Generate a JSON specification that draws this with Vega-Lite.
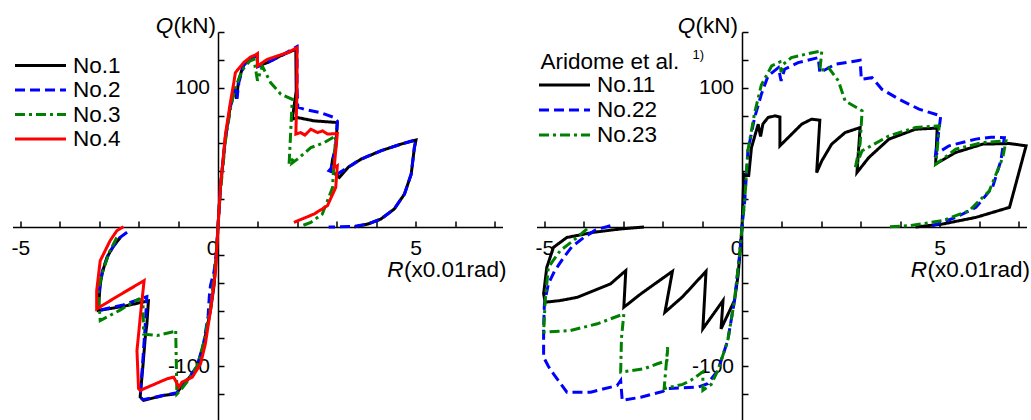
{
  "$schema": "https://vega.github.io/schema/vega-lite/v6.json",
  "padding": {"left": 10.5, "top": 14, "right": 0, "bottom": 0},
  "spacing": 34,
  "bounds": "flush",
  "config": {"font": "Liberation Sans", "view": {"stroke": null}, "axis": {"grid": false}},
  "datasets": {
    "L": [
      {"s":"No.1","r":-2.47,"q":-7.5},{"s":"No.1","r":-2.65,"q":-14},{"s":"No.1","r":-2.81,"q":-21.8},{"s":"No.1","r":-2.92,"q":-32},{"s":"No.1","r":-2.98,"q":-41},{"s":"No.1","r":-3.03,"q":-60},{"s":"No.1","r":-2.4,"q":-57},{"s":"No.1","r":-1.76,"q":-53},{"s":"No.1","r":-1.8,"q":-70},{"s":"No.1","r":-1.84,"q":-79},{"s":"No.1","r":-1.9,"q":-100},{"s":"No.1","r":-1.97,"q":-122},{"s":"No.1","r":-1.88,"q":-124.5},{"s":"No.1","r":-1.38,"q":-120.9},{"s":"No.1","r":-1.04,"q":-119.7},{"s":"No.1","r":-0.99,"q":-117},{"s":"No.1","r":-0.78,"q":-110},{"s":"No.1","r":-0.53,"q":-101},{"s":"No.1","r":-0.36,"q":-84},{"s":"No.1","r":-0.19,"q":-60},{"s":"No.1","r":-0.1,"q":-42},{"s":"No.1","r":-0.04,"q":-20},{"s":"No.1","r":0,"q":0},{"s":"No.1","r":0.06,"q":28},{"s":"No.1","r":0.19,"q":65},{"s":"No.1","r":0.32,"q":88},{"s":"No.1","r":0.44,"q":100},{"s":"No.1","r":0.47,"q":92},{"s":"No.1","r":0.52,"q":105},{"s":"No.1","r":0.65,"q":117},{"s":"No.1","r":0.82,"q":121.5},{"s":"No.1","r":0.99,"q":123.5},{"s":"No.1","r":1.0,"q":115.6},{"s":"No.1","r":1.25,"q":118},{"s":"No.1","r":1.59,"q":123},{"s":"No.1","r":1.97,"q":127.6},{"s":"No.1","r":1.98,"q":97.7},{"s":"No.1","r":1.88,"q":77.4},{"s":"No.1","r":2.01,"q":78.6},{"s":"No.1","r":2.43,"q":76.2},{"s":"No.1","r":3.02,"q":75},{"s":"No.1","r":2.98,"q":57},{"s":"No.1","r":2.9,"q":48.7},{"s":"No.1","r":2.86,"q":40.4},{"s":"No.1","r":3.07,"q":35.6},{"s":"No.1","r":3.3,"q":43},{"s":"No.1","r":3.62,"q":48.7},{"s":"No.1","r":4.12,"q":54.7},{"s":"No.1","r":4.63,"q":59.5},{"s":"No.1","r":5.01,"q":62.4},{"s":"No.1","r":4.97,"q":57},{"s":"No.1","r":4.89,"q":38},{"s":"No.1","r":4.72,"q":23.7},{"s":"No.1","r":4.46,"q":12.9},{"s":"No.1","r":4.12,"q":5.7},{"s":"No.1","r":3.79,"q":2.1},{"s":"No.1","r":3.45,"q":0},
      {"s":"No.2","r":-2.3,"q":-3.8},{"s":"No.2","r":-2.5,"q":-8},{"s":"No.2","r":-2.75,"q":-18},{"s":"No.2","r":-2.93,"q":-32},{"s":"No.2","r":-3.0,"q":-45},{"s":"No.2","r":-3.05,"q":-60},{"s":"No.2","r":-2.4,"q":-56},{"s":"No.2","r":-1.8,"q":-50},{"s":"No.2","r":-1.84,"q":-70},{"s":"No.2","r":-1.9,"q":-95},{"s":"No.2","r":-1.97,"q":-122},{"s":"No.2","r":-1.9,"q":-124},{"s":"No.2","r":-1.4,"q":-121},{"s":"No.2","r":-1.04,"q":-119},{"s":"No.2","r":-0.97,"q":-116},{"s":"No.2","r":-0.78,"q":-110},{"s":"No.2","r":-0.53,"q":-100},{"s":"No.2","r":-0.36,"q":-83},{"s":"No.2","r":-0.25,"q":-64},{"s":"No.2","r":-0.22,"q":-50},{"s":"No.2","r":-0.19,"q":-42},{"s":"No.2","r":-0.1,"q":-32},{"s":"No.2","r":-0.04,"q":-18},{"s":"No.2","r":0,"q":0},{"s":"No.2","r":0.06,"q":28},{"s":"No.2","r":0.19,"q":64},{"s":"No.2","r":0.32,"q":87},{"s":"No.2","r":0.44,"q":99},{"s":"No.2","r":0.48,"q":92},{"s":"No.2","r":0.53,"q":104},{"s":"No.2","r":0.65,"q":116},{"s":"No.2","r":0.82,"q":121},{"s":"No.2","r":0.99,"q":123},{"s":"No.2","r":1.0,"q":115},{"s":"No.2","r":1.25,"q":118},{"s":"No.2","r":1.6,"q":123},{"s":"No.2","r":2.0,"q":129.5},{"s":"No.2","r":2.0,"q":100},{"s":"No.2","r":2.02,"q":86},{"s":"No.2","r":2.18,"q":84.6},{"s":"No.2","r":2.6,"q":82},{"s":"No.2","r":2.94,"q":78.6},{"s":"No.2","r":3.02,"q":76},{"s":"No.2","r":2.98,"q":57},{"s":"No.2","r":2.86,"q":42},{"s":"No.2","r":2.81,"q":40.4},{"s":"No.2","r":3.02,"q":38},{"s":"No.2","r":3.3,"q":43},{"s":"No.2","r":3.62,"q":48.7},{"s":"No.2","r":4.12,"q":54.7},{"s":"No.2","r":4.63,"q":59.5},{"s":"No.2","r":5.01,"q":62.6},{"s":"No.2","r":4.97,"q":57},{"s":"No.2","r":4.89,"q":38},{"s":"No.2","r":4.72,"q":23.7},{"s":"No.2","r":4.46,"q":12.9},{"s":"No.2","r":4.12,"q":5.7},{"s":"No.2","r":3.79,"q":2.1},{"s":"No.2","r":3.4,"q":0.3},{"s":"No.2","r":2.8,"q":0},
      {"s":"No.3","r":-2.56,"q":-7.5},{"s":"No.3","r":-2.75,"q":-18},{"s":"No.3","r":-2.95,"q":-35},{"s":"No.3","r":-3.03,"q":-46},{"s":"No.3","r":-2.98,"q":-67.2},{"s":"No.3","r":-2.5,"q":-60},{"s":"No.3","r":-2.0,"q":-51.6},{"s":"No.3","r":-1.9,"q":-53},{"s":"No.3","r":-1.88,"q":-77},{"s":"No.3","r":-1.54,"q":-77.9},{"s":"No.3","r":-1.1,"q":-75},{"s":"No.3","r":-1.07,"q":-74},{"s":"No.3","r":-1.04,"q":-120},{"s":"No.3","r":-0.95,"q":-117.3},{"s":"No.3","r":-0.78,"q":-111},{"s":"No.3","r":-0.53,"q":-100},{"s":"No.3","r":-0.36,"q":-83},{"s":"No.3","r":-0.19,"q":-58},{"s":"No.3","r":-0.06,"q":-25},{"s":"No.3","r":0,"q":0},{"s":"No.3","r":0.06,"q":25},{"s":"No.3","r":0.19,"q":62},{"s":"No.3","r":0.32,"q":86},{"s":"No.3","r":0.44,"q":100},{"s":"No.3","r":0.55,"q":108},{"s":"No.3","r":0.65,"q":114},{"s":"No.3","r":0.8,"q":119},{"s":"No.3","r":0.91,"q":120.4},{"s":"No.3","r":1.0,"q":105},{"s":"No.3","r":1.12,"q":115.6},{"s":"No.3","r":1.33,"q":103.7},{"s":"No.3","r":1.59,"q":95.3},{"s":"No.3","r":1.88,"q":91.7},{"s":"No.3","r":1.8,"q":45.2},{"s":"No.3","r":1.92,"q":49.9},{"s":"No.3","r":1.88,"q":46},{"s":"No.3","r":2.01,"q":48.7},{"s":"No.3","r":2.35,"q":57},{"s":"No.3","r":2.69,"q":60.6},{"s":"No.3","r":2.98,"q":65.4},{"s":"No.3","r":2.92,"q":40},{"s":"No.3","r":2.9,"q":28.4},{"s":"No.3","r":2.64,"q":9.3},{"s":"No.3","r":2.35,"q":3.3},{"s":"No.3","r":2.09,"q":0.5},
      {"s":"No.4","r":-2.39,"q":0.2},{"s":"No.4","r":-2.56,"q":-2.7},{"s":"No.4","r":-2.73,"q":-9.8},{"s":"No.4","r":-2.98,"q":-24.2},{"s":"No.4","r":-3.07,"q":-45.7},{"s":"No.4","r":-3.07,"q":-58.8},{"s":"No.4","r":-2.5,"q":-49},{"s":"No.4","r":-1.87,"q":-38.5},{"s":"No.4","r":-1.95,"q":-60},{"s":"No.4","r":-2.05,"q":-88.7},{"s":"No.4","r":-2.01,"q":-116},{"s":"No.4","r":-1.97,"q":-117.3},{"s":"No.4","r":-1.29,"q":-109},{"s":"No.4","r":-1.12,"q":-107.8},{"s":"No.4","r":-0.99,"q":-115},{"s":"No.4","r":-0.91,"q":-111.4},{"s":"No.4","r":-0.65,"q":-107.8},{"s":"No.4","r":-0.44,"q":-98.2},{"s":"No.4","r":-0.32,"q":-83.9},{"s":"No.4","r":-0.19,"q":-60},{"s":"No.4","r":-0.06,"q":-31.3},{"s":"No.4","r":0,"q":0},{"s":"No.4","r":0.06,"q":28.4},{"s":"No.4","r":0.19,"q":66.7},{"s":"No.4","r":0.32,"q":90.5},{"s":"No.4","r":0.4,"q":103.6},{"s":"No.4","r":0.44,"q":110.8},{"s":"No.4","r":0.65,"q":118},{"s":"No.4","r":0.82,"q":122},{"s":"No.4","r":0.95,"q":123.5},{"s":"No.4","r":1.0,"q":124.5},{"s":"No.4","r":1.0,"q":115.6},{"s":"No.4","r":1.25,"q":120.4},{"s":"No.4","r":1.76,"q":125.2},{"s":"No.4","r":2.0,"q":128.7},{"s":"No.4","r":2.0,"q":97.7},{"s":"No.4","r":1.97,"q":66.7},{"s":"No.4","r":2.09,"q":67.8},{"s":"No.4","r":2.2,"q":66},{"s":"No.4","r":2.35,"q":70.2},{"s":"No.4","r":2.52,"q":67.8},{"s":"No.4","r":2.65,"q":69},{"s":"No.4","r":2.77,"q":66.7},{"s":"No.4","r":3.02,"q":67.1},{"s":"No.4","r":2.94,"q":42.7},{"s":"No.4","r":3.02,"q":44},{"s":"No.4","r":2.98,"q":28.4},{"s":"No.4","r":2.77,"q":15.3},{"s":"No.4","r":2.43,"q":9.3},{"s":"No.4","r":1.92,"q":3.3}
    ],
    "R": [
      {"s":"No.11","r":-2.48,"q":0},{"s":"No.11","r":-3.1,"q":-1.5},{"s":"No.11","r":-3.75,"q":-3.8},{"s":"No.11","r":-4.43,"q":-7.5},{"s":"No.11","r":-4.77,"q":-14.6},{"s":"No.11","r":-4.94,"q":-29},{"s":"No.11","r":-5.02,"q":-48},{"s":"No.11","r":-4.98,"q":-54},{"s":"No.11","r":-4.6,"q":-52.8},{"s":"No.11","r":-4.17,"q":-50.5},{"s":"No.11","r":-3.75,"q":-45.7},{"s":"No.11","r":-3.33,"q":-40.9},{"s":"No.11","r":-2.94,"q":-31.3},{"s":"No.11","r":-2.99,"q":-57.6},{"s":"No.11","r":-2.56,"q":-48},{"s":"No.11","r":-1.76,"q":-31.8},{"s":"No.11","r":-1.95,"q":-61.2},{"s":"No.11","r":-1.5,"q":-50},{"s":"No.11","r":-0.91,"q":-31.8},{"s":"No.11","r":-0.99,"q":-73.1},{"s":"No.11","r":-0.48,"q":-52.8},{"s":"No.11","r":-0.53,"q":-73.1},{"s":"No.11","r":-0.19,"q":-52.8},{"s":"No.11","r":-0.1,"q":-35},{"s":"No.11","r":-0.04,"q":-15},{"s":"No.11","r":0,"q":0},{"s":"No.11","r":0.05,"q":38},{"s":"No.11","r":0.11,"q":37},{"s":"No.11","r":0.17,"q":37},{"s":"No.11","r":0.24,"q":57},{"s":"No.11","r":0.41,"q":73.8},{"s":"No.11","r":0.47,"q":65},{"s":"No.11","r":0.53,"q":74},{"s":"No.11","r":0.66,"q":78.6},{"s":"No.11","r":0.83,"q":79.8},{"s":"No.11","r":0.96,"q":79},{"s":"No.11","r":0.96,"q":58.3},{"s":"No.11","r":1.17,"q":64.2},{"s":"No.11","r":1.51,"q":73.8},{"s":"No.11","r":1.76,"q":77.4},{"s":"No.11","r":1.97,"q":76.7},{"s":"No.11","r":1.89,"q":39.1},{"s":"No.11","r":2.02,"q":47.5},{"s":"No.11","r":2.27,"q":59.5},{"s":"No.11","r":2.61,"q":67.8},{"s":"No.11","r":2.99,"q":71.4},{"s":"No.11","r":2.91,"q":39.1},{"s":"No.11","r":3.21,"q":49.9},{"s":"No.11","r":3.72,"q":63.1},{"s":"No.11","r":4.39,"q":70.2},{"s":"No.11","r":4.94,"q":71},{"s":"No.11","r":4.9,"q":45.2},{"s":"No.11","r":5.41,"q":53.5},{"s":"No.11","r":6.09,"q":59.5},{"s":"No.11","r":6.77,"q":59.9},{"s":"No.11","r":7.19,"q":58.3},{"s":"No.11","r":6.77,"q":14.1},{"s":"No.11","r":5.92,"q":6.9},{"s":"No.11","r":5.07,"q":2.1},{"s":"No.11","r":4.39,"q":0},
      {"s":"No.22","r":-3.33,"q":0.9},{"s":"No.22","r":-3.7,"q":-2},{"s":"No.22","r":-4.0,"q":-7.5},{"s":"No.22","r":-4.3,"q":-14},{"s":"No.22","r":-4.51,"q":-21.8},{"s":"No.22","r":-4.75,"q":-32},{"s":"No.22","r":-4.9,"q":-40.9},{"s":"No.22","r":-5.0,"q":-55},{"s":"No.22","r":-5.02,"q":-72},{"s":"No.22","r":-5.02,"q":-93.5},{"s":"No.22","r":-4.9,"q":-100},{"s":"No.22","r":-4.77,"q":-105.4},{"s":"No.22","r":-4.43,"q":-118.6},{"s":"No.22","r":-3.83,"q":-118.6},{"s":"No.22","r":-3.16,"q":-113.8},{"s":"No.22","r":-3.07,"q":-110.2},{"s":"No.22","r":-3.03,"q":-124.5},{"s":"No.22","r":-2.56,"q":-122.2},{"s":"No.22","r":-2.0,"q":-118},{"s":"No.22","r":-1.88,"q":-116},{"s":"No.22","r":-1.12,"q":-115},{"s":"No.22","r":-0.87,"q":-112.5},{"s":"No.22","r":-0.61,"q":-103},{"s":"No.22","r":-0.36,"q":-81.5},{"s":"No.22","r":-0.19,"q":-52.8},{"s":"No.22","r":-0.06,"q":-20},{"s":"No.22","r":0,"q":0},{"s":"No.22","r":0.07,"q":18.9},{"s":"No.22","r":0.15,"q":54.7},{"s":"No.22","r":0.32,"q":78.6},{"s":"No.22","r":0.49,"q":95.3},{"s":"No.22","r":0.66,"q":108.5},{"s":"No.22","r":0.92,"q":114.4},{"s":"No.22","r":0.99,"q":104.9},{"s":"No.22","r":1.08,"q":113.3},{"s":"No.22","r":1.42,"q":118},{"s":"No.22","r":1.93,"q":121.6},{"s":"No.22","r":1.97,"q":110.8},{"s":"No.22","r":2.36,"q":116.8},{"s":"No.22","r":2.99,"q":119.7},{"s":"No.22","r":3.02,"q":106.1},{"s":"No.22","r":3.29,"q":107.2},{"s":"No.22","r":3.54,"q":98.9},{"s":"No.22","r":3.97,"q":91.8},{"s":"No.22","r":4.48,"q":84.6},{"s":"No.22","r":5.03,"q":79.8},{"s":"No.22","r":4.94,"q":60},{"s":"No.22","r":4.9,"q":52.3},{"s":"No.22","r":5.24,"q":58.3},{"s":"No.22","r":5.92,"q":63.1},{"s":"No.22","r":6.3,"q":64.5},{"s":"No.22","r":6.64,"q":64.2},{"s":"No.22","r":6.55,"q":47.5},{"s":"No.22","r":6.34,"q":28.4},{"s":"No.22","r":5.92,"q":14.1},{"s":"No.22","r":5.41,"q":6.9},{"s":"No.22","r":4.82,"q":0.9},
      {"s":"No.23","r":-3.92,"q":-1.4},{"s":"No.23","r":-4.17,"q":-7.5},{"s":"No.23","r":-4.6,"q":-17},{"s":"No.23","r":-4.9,"q":-29},{"s":"No.23","r":-4.98,"q":-52.8},{"s":"No.23","r":-5.02,"q":-75.5},{"s":"No.23","r":-4.34,"q":-74.3},{"s":"No.23","r":-3.66,"q":-69.5},{"s":"No.23","r":-2.99,"q":-62.4},{"s":"No.23","r":-3.05,"q":-80},{"s":"No.23","r":-3.07,"q":-104.2},{"s":"No.23","r":-2.48,"q":-101.8},{"s":"No.23","r":-2.14,"q":-98.2},{"s":"No.23","r":-1.9,"q":-96},{"s":"No.23","r":-1.88,"q":-86.3},{"s":"No.23","r":-1.97,"q":-116},{"s":"No.23","r":-1.5,"q":-113},{"s":"No.23","r":-1.29,"q":-110},{"s":"No.23","r":-0.99,"q":-104},{"s":"No.23","r":-0.99,"q":-117.3},{"s":"No.23","r":-0.78,"q":-113},{"s":"No.23","r":-0.61,"q":-103},{"s":"No.23","r":-0.36,"q":-81.5},{"s":"No.23","r":-0.19,"q":-52.8},{"s":"No.23","r":-0.06,"q":-20},{"s":"No.23","r":0,"q":0},{"s":"No.23","r":0.07,"q":20},{"s":"No.23","r":0.15,"q":55},{"s":"No.23","r":0.32,"q":82},{"s":"No.23","r":0.49,"q":102},{"s":"No.23","r":0.75,"q":115.6},{"s":"No.23","r":0.96,"q":118.5},{"s":"No.23","r":0.99,"q":111},{"s":"No.23","r":1.05,"q":117},{"s":"No.23","r":1.25,"q":121.6},{"s":"No.23","r":1.68,"q":124.5},{"s":"No.23","r":2.02,"q":126.4},{"s":"No.23","r":1.97,"q":112},{"s":"No.23","r":2.19,"q":114.4},{"s":"No.23","r":2.44,"q":104.9},{"s":"No.23","r":2.61,"q":90.5},{"s":"No.23","r":3.04,"q":83.4},{"s":"No.23","r":2.99,"q":60},{"s":"No.23","r":2.87,"q":42.7},{"s":"No.23","r":3.04,"q":54.7},{"s":"No.23","r":3.72,"q":65.4},{"s":"No.23","r":4.39,"q":71.4},{"s":"No.23","r":4.99,"q":72.6},{"s":"No.23","r":4.94,"q":55},{"s":"No.23","r":4.9,"q":45},{"s":"No.23","r":5.41,"q":55.9},{"s":"No.23","r":6.09,"q":60.6},{"s":"No.23","r":6.68,"q":61.8},{"s":"No.23","r":6.6,"q":49.9},{"s":"No.23","r":6.26,"q":26},{"s":"No.23","r":5.75,"q":11.7},{"s":"No.23","r":5.07,"q":4.5},{"s":"No.23","r":4.22,"q":0.9},{"s":"No.23","r":3.67,"q":0}
    ]
  },
  "resolve": {
    "scale": {"color": "independent", "strokeDash": "independent", "x": "independent", "y": "independent"},
    "legend": {"color": "independent", "strokeDash": "independent"}
  },
  "hconcat": [
    {
      "width": 490,
      "height": 390,
      "encoding": {
        "x": {"field": "r", "type": "quantitative", "scale": {"domain": [-5.2, 7.2], "nice": false, "zero": false},
          "axis": {"title": null, "orient": "bottom", "offset": -195, "values": [-5,-4,-3,-2,-1,0,1,2,3,4,5,6,7], "tickSize": -6, "tickWidth": 1.5, "tickColor": "black", "domainColor": "black", "domainWidth": 1.5, "labelColor": "black", "labelFont": "Liberation Sans", "labelFontSize": 21, "labelPadding": 33, "labelBaseline": "alphabetic", "labelFlush": false, "labelOverlap": false, "labelExpr": "datum.value % 5 == 0 ? toString(datum.value) : ''", "labelAlign": {"condition": {"test": "datum.value == 0", "value": "right"}, "value": "center"}}},
        "y": {"field": "q", "type": "quantitative", "scale": {"domain": [-140, 140], "nice": false, "zero": false},
          "axis": {"title": null, "orient": "left", "offset": -205.5, "values": [-140,-120,-100,-80,-60,-40,-20,20,40,60,80,100,120,140], "tickSize": -6, "tickWidth": 1.5, "tickColor": "black", "domainColor": "black", "domainWidth": 1.5, "labelColor": "black", "labelFont": "Liberation Sans", "labelFontSize": 21, "labelPadding": 14.5, "labelFlush": false, "labelOverlap": false, "labelExpr": "abs(datum.value) == 100 ? toString(datum.value) : ''"}}
      },
      "layer": [
        {
          "data": {"name": "L"},
          "mark": {"type": "line", "strokeWidth": 3},
          "encoding": {
            "color": {"field": "s", "type": "nominal", "scale": {"domain": ["No.1","No.2","No.3","No.4"], "range": ["#000000","#0000ff","#008000","#ff0000"]},
              "legend": {"title": null, "orient": "none", "legendX": 4, "legendY": 22, "padding": 0, "symbolType": "M-2.55,0H2.55", "symbolSize": 400, "symbolOffset": 12.5, "symbolStrokeWidth": 3, "labelOffset": 21, "labelFontSize": 22.5, "labelFont": "Liberation Sans", "labelColor": "black", "rowPadding": 1.5, "labelLimit": 0}},
            "strokeDash": {"field": "s", "type": "nominal", "scale": {"domain": ["No.1","No.2","No.3","No.4"], "range": [[1,0],[10,5],[10,4,3,4],[1,0]]},
              "legend": {"title": null, "orient": "none", "legendX": 4, "legendY": 22, "padding": 0, "symbolType": "M-2.55,0H2.55", "symbolSize": 400, "symbolOffset": 12.5, "symbolStrokeWidth": 3, "labelOffset": 21, "labelFontSize": 22.5, "labelFont": "Liberation Sans", "labelColor": "black", "rowPadding": 1.5, "labelLimit": 0}},
            "order": {"value": null}
          }
        },
        {
          "data": {"values": [{"t": "Q", "r": -1.13, "q": 139.3}, {"t": "R", "r": 4.695, "q": -35.6}]},
          "mark": {"type": "text", "fontStyle": "italic", "align": "right", "baseline": "alphabetic", "fontSize": 22.5, "font": "Liberation Sans", "color": "black"},
          "encoding": {"text": {"field": "t"}}
        },
        {
          "data": {"values": [{"t": "(kN)", "r": -0.05, "q": 139.3}, {"t": "(x0.01rad)", "r": 7.3, "q": -35.6}]},
          "mark": {"type": "text", "align": "right", "baseline": "alphabetic", "fontSize": 22.5, "font": "Liberation Sans", "color": "black"},
          "encoding": {"text": {"field": "t"}}
        }
      ]
    },
    {
      "width": 490,
      "height": 390,
      "encoding": {
        "x": {"field": "r", "type": "quantitative", "scale": {"domain": [-5.2, 7.2], "nice": false, "zero": false},
          "axis": {"title": null, "orient": "bottom", "offset": -195, "values": [-5,-4,-3,-2,-1,0,1,2,3,4,5,6,7], "tickSize": -6, "tickWidth": 1.5, "tickColor": "black", "domainColor": "black", "domainWidth": 1.5, "labelColor": "black", "labelFont": "Liberation Sans", "labelFontSize": 21, "labelPadding": 33, "labelBaseline": "alphabetic", "labelFlush": false, "labelOverlap": false, "labelExpr": "datum.value % 5 == 0 ? toString(datum.value) : ''", "labelAlign": {"condition": {"test": "datum.value == 0", "value": "right"}, "value": "center"}}},
        "y": {"field": "q", "type": "quantitative", "scale": {"domain": [-140, 140], "nice": false, "zero": false},
          "axis": {"title": null, "orient": "left", "offset": -205.5, "values": [-140,-120,-100,-80,-60,-40,-20,20,40,60,80,100,120,140], "tickSize": -6, "tickWidth": 1.5, "tickColor": "black", "domainColor": "black", "domainWidth": 1.5, "labelColor": "black", "labelFont": "Liberation Sans", "labelFontSize": 21, "labelPadding": 14.5, "labelFlush": false, "labelOverlap": false, "labelExpr": "abs(datum.value) == 100 ? toString(datum.value) : ''"}}
      },
      "layer": [
        {
          "data": {"name": "R"},
          "mark": {"type": "line", "strokeWidth": 3},
          "encoding": {
            "color": {"field": "s", "type": "nominal", "scale": {"domain": ["No.11","No.22","No.23"], "range": ["#000000","#0000ff","#008000"]},
              "legend": {"title": "Aridome et al.", "titleFontSize": 22.5, "titleFontWeight": "normal", "titleColor": "black", "titleFont": "Liberation Sans", "titlePadding": 0.5, "titleLimit": 0, "orient": "none", "legendX": 4, "legendY": 18.5, "padding": 0, "symbolType": "M-2.55,0H2.55", "symbolSize": 400, "symbolOffset": 12.5, "symbolStrokeWidth": 3, "labelOffset": 21, "labelFontSize": 22.5, "labelFont": "Liberation Sans", "labelColor": "black", "rowPadding": 2, "labelLimit": 0}},
            "strokeDash": {"field": "s", "type": "nominal", "scale": {"domain": ["No.11","No.22","No.23"], "range": [[1,0],[10,5],[10,4,3,4]]},
              "legend": {"title": "Aridome et al.", "titleFontSize": 22.5, "titleFontWeight": "normal", "titleColor": "black", "titleFont": "Liberation Sans", "titlePadding": 0.5, "titleLimit": 0, "orient": "none", "legendX": 4, "legendY": 18.5, "padding": 0, "symbolType": "M-2.55,0H2.55", "symbolSize": 400, "symbolOffset": 12.5, "symbolStrokeWidth": 3, "labelOffset": 21, "labelFontSize": 22.5, "labelFont": "Liberation Sans", "labelColor": "black", "rowPadding": 2, "labelLimit": 0}},
            "order": {"value": null}
          }
        },
        {
          "data": {"values": [{"t": "Q", "r": -1.18, "q": 139.3}, {"t": "R", "r": 4.685, "q": -35.6}]},
          "mark": {"type": "text", "fontStyle": "italic", "align": "right", "baseline": "alphabetic", "fontSize": 22.5, "font": "Liberation Sans", "color": "black"},
          "encoding": {"text": {"field": "t"}}
        },
        {
          "data": {"values": [{"t": "(kN)", "r": -0.1, "q": 139.3}, {"t": "(x0.01rad)", "r": 7.29, "q": -35.6}]},
          "mark": {"type": "text", "align": "right", "baseline": "alphabetic", "fontSize": 22.5, "font": "Liberation Sans", "color": "black"},
          "encoding": {"text": {"field": "t"}}
        },
        {
          "data": {"values": [{"t": "1)", "r": -1.25, "q": 120.6}]},
          "mark": {"type": "text", "align": "left", "baseline": "alphabetic", "fontSize": 13, "font": "Liberation Sans", "color": "black"},
          "encoding": {"text": {"field": "t"}}
        }
      ]
    }
  ]
}
